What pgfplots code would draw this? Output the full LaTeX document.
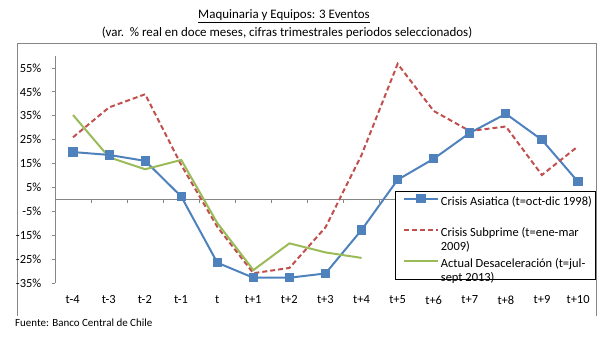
\documentclass[border=0pt]{standalone}
\usepackage{pgfplots}
\pgfplotsset{compat=1.18}
\usepackage{fontspec}
\setmainfont{Carlito}
\definecolor{cblue}{HTML}{4F81BD}
\definecolor{cred}{HTML}{C0504D}
\definecolor{cgreen}{HTML}{9BBB59}
\definecolor{cgray}{HTML}{868686}
\begin{document}
\begin{tikzpicture}[x=1bp,y=1bp]
\useasboundingbox (0,0) rectangle (609,342);
\draw[cgray, line width=0.8bp] (17,26) -- (17,299) -- (596,299) -- (596,26);
\node[font=\fontsize{13}{15}\selectfont] at (284,326) {\underline{Maquinaria y Equipos: 3 Eventos}};
\node[font=\fontsize{13}{15}\selectfont] at (287,309) {(var.\ \ \% real en doce meses, cifras trimestrales periodos seleccionados)};
\node[font=\fontsize{11}{13}\selectfont, anchor=west, inner sep=0] at (15,19) {Fuente: Banco Central de Chile};
\begin{axis}[
  at={(55bp,59bp)}, anchor=south west,
  scale only axis, width=541bp, height=227bp,
  xmin=-0.5, xmax=14.5, ymin=-35, ymax=60,
  axis x line=none,
  axis y line*=left,
  axis line style={cgray, line width=0.8bp},
  y axis line style={-},
  ytick={-35,-25,-15,-5,5,15,25,35,45,55},
  yticklabels={-35\%,-25\%,-15\%,-5\%,5\%,15\%,25\%,35\%,45\%,55\%},
  ytick style={cgray, line width=0.8bp},
  tick align=outside, major tick length=3.5bp,
  yticklabel style={font=\fontsize{12.5}{14}\selectfont, anchor=east, inner sep=0pt, xshift=-10bp},
  clip=false,
  legend style={at={(0.6285,0.405)}, anchor=north west, draw=black, line width=0.8bp,
    font=\fontsize{12.5}{14}\selectfont, inner xsep=1.5bp, inner ysep=2bp,
    cells={anchor=west, inner sep=1.5bp}, row sep=8.5bp},
  legend cell align=left,
  legend image code/.code={\path[draw=none,fill=none] (0bp,-6bp) -- (0bp,6bp);\draw[#1, mark repeat=2, mark phase=2] plot coordinates {(7bp,6bp) (24bp,6bp) (41bp,6bp)};},
]
% zero line and category boundary ticks
\draw[cgray, line width=0.8bp] (axis cs:-0.5,0) -- (axis cs:14.5,0);
\pgfplotsinvokeforeach{0.5,1.5,...,13.5}{
  \draw[cgray, line width=0.8bp] (axis cs:#1,0) -- ([yshift=-4bp]axis cs:#1,0);
}
\addplot[cblue, line width=2bp, mark=square*, mark size=3.6bp, mark options={solid}] coordinates {
(0,19.8) (1,18.6) (2,16.1) (3,1.2) (4,-26.5) (5,-32.8) (6,-32.8) (7,-31) (8,-12.8) (9,8.2) (10,17) (11,27.8) (12,35.8) (13,24.9) (14,7.4)};
\addlegendentry{\begin{tabular}{@{}l@{}}Crisis Asiatica (t=oct-dic 1998)\\ \strut\end{tabular}}
\addplot[cred, line width=2bp, dash pattern=on 5bp off 3bp] coordinates {
(0,26) (1,38.5) (2,44) (3,14.4) (4,-11.5) (5,-30.9) (6,-28.7) (7,-11.7) (8,18.6) (9,56.7) (10,37) (11,28.6) (12,30.5) (13,10.2) (14,22.2)};
\addlegendentry{\begin{tabular}{@{}l@{}}Crisis Subprime (t=ene-mar\\2009)\end{tabular}}
\addplot[cgreen, line width=2bp] coordinates {
(0,35.3) (1,17.6) (2,12.6) (3,16.5) (4,-9.9) (5,-29.6) (6,-18.4) (7,-22.2) (8,-24.5)};
\addlegendentry{\begin{tabular}{@{}l@{}}Actual Desaceleración (t=jul-\\sept 2013)\end{tabular}}
\end{axis}
\begin{scope}[font=\fontsize{12.5}{14}\selectfont]
\foreach \lab [count=\i from 0] in {t-4,t-3,t-2,t-1,t,t+1,t+2,t+3,t+4,t+5,t+6,t+7,t+8,t+9,t+10}{
  \node at ({72.7+36.1*\i},42) {\lab};
}
\end{scope}
\end{tikzpicture}
\end{document}
